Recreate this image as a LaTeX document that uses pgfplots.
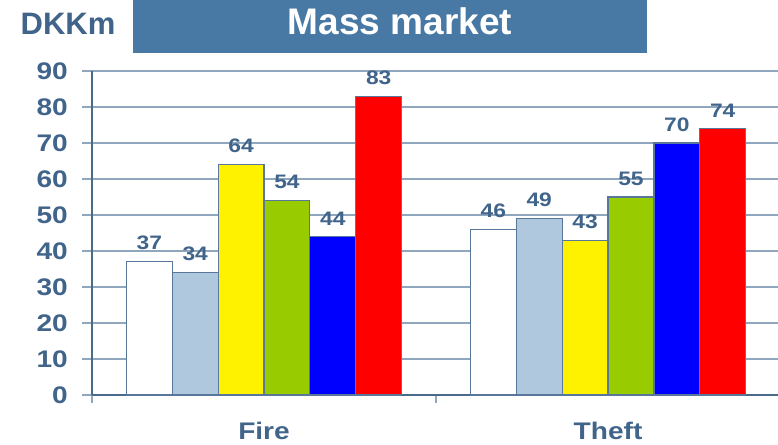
\documentclass[border=0pt]{standalone}
\usepackage{fontspec}
\setmainfont{Liberation Sans}
\newfontfamily\wide[FakeStretch=1.17]{Liberation Sans}
\usepackage{pgfplots}
\pgfplotsset{compat=1.18}
\definecolor{txt}{HTML}{41648A}
\definecolor{titlebg}{HTML}{4879A4}
\definecolor{gridc}{HTML}{8FA6BD}
\definecolor{axisc}{HTML}{4A6A8A}
\definecolor{edge}{HTML}{58779A}
\definecolor{lb}{HTML}{AFC8DD}
\definecolor{grn}{HTML}{99CC00}
\begin{document}
\begin{tikzpicture}[x=1pt,y=1pt]
\useasboundingbox (0,0) rectangle (778,444);
\fill[titlebg] (133,391) rectangle (647,444);
\node[anchor=base, text=white, inner sep=0pt, font=\fontsize{37}{40}\selectfont\bfseries] at (400,409) {Mass market};
\node[anchor=base, text=txt, inner sep=0pt, font=\fontsize{31}{34}\selectfont\bfseries] at (68,409) {DKKm};
\begin{axis}[
  at={(92pt,49pt)}, anchor=south west,
  width=686pt, height=324pt, scale only axis,
  ybar=0pt, bar width=0.13333,
  xmin=-0.5, xmax=1.494, ymin=0, ymax=90,
  axis x line=bottom, axis y line=left,
  axis line style={-, draw=axisc, line width=1.3pt},
  xtick={0,1}, xticklabels={Fire,Theft},
  major x tick style={draw=none},
  minor xtick={-0.5,0.5,1.5},
  minor tick length=8pt,
  minor x tick style={draw=gridc, line width=1.2pt},
  ytick={0,10,...,90},
  tick align=outside,
  major tick length=10pt,
  major y tick style={draw=gridc, line width=1.2pt},
  ymajorgrids,
  major grid style={draw=gridc, line width=1.2pt},
  /pgf/number format/assume math mode=true,
  yticklabel style={font=\wide\bfseries\fontsize{24}{26}\selectfont, text=txt, anchor=east, inner sep=0pt, xshift=-14pt},
  xticklabel style={font=\wide\bfseries\fontsize{24}{26}\selectfont, text=txt, anchor=base, inner sep=0pt, yshift=-34pt},
  nodes near coords,
  every node near coord/.append style={font=\wide\bfseries\fontsize{19.5}{21}\selectfont, text=txt, anchor=south, inner sep=0pt, yshift=11pt},
  every axis plot/.append style={draw=edge, line width=1.2pt},
  clip=false,
]
\addplot[fill=white, draw=edge] coordinates {(0,37) (1,46)};
\addplot[fill=lb, draw=edge] coordinates {(0,34) (1,49)};
\addplot[fill=yellow, draw=edge] coordinates {(0,64) (1,43)};
\addplot[fill=grn, draw=edge] coordinates {(0,54) (1,55)};
\addplot[fill=blue, draw=edge] coordinates {(0,44) (1,70)};
\addplot[fill=red, draw=edge] coordinates {(0,83) (1,74)};
\end{axis}
\end{tikzpicture}
\end{document}
